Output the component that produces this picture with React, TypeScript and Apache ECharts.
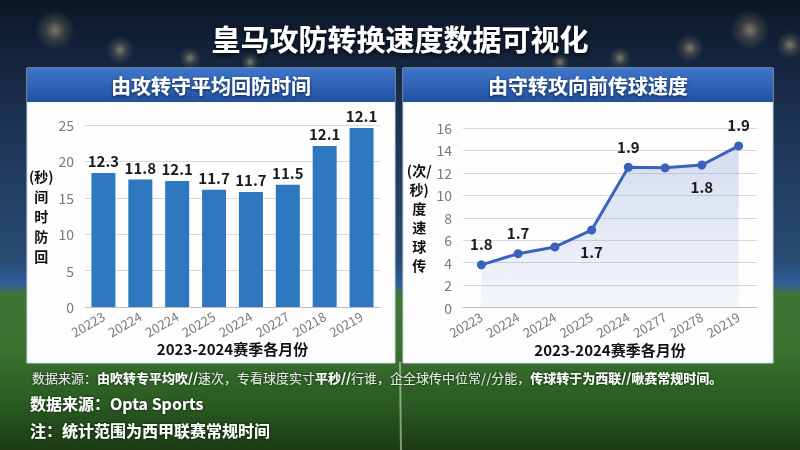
import React, { useEffect, useRef } from 'react';
import * as echarts from 'echarts';

// 左图：由攻转守平均回防时间
const barCategories = ['20223', '20224', '20224', '20225', '20224', '20227', '20218', '20219'];
const barValues = [18.4, 17.5, 17.3, 16.1, 15.8, 16.8, 22.1, 24.6];
const barLabels = ['12.3', '11.8', '12.1', '11.7', '11.7', '11.5', '12.1', '12.1'];

// 右图：由守转攻向前传球速度
const lineCategories = ['20223', '20224', '20224', '20225', '20224', '20277', '20278', '20219'];
const lineValues = [3.8, 4.8, 5.4, 6.9, 12.5, 12.45, 12.7, 14.4];
const lineLabels = ['1.8', '1.7', '', '1.7', '1.9', '', '1.8', '1.9'];
const lineLabelPos = ['top', 'top', 'top', 'bottom', 'top', 'top', 'bottom', 'top'];

const FONT = "'Noto Sans CJK SC', 'Noto Sans', sans-serif";

const App: React.FC = () => {
  const chartRef = useRef<HTMLDivElement>(null);

  useEffect(() => {
    if (!chartRef.current) return;
    const chart = echarts.init(chartRef.current, undefined, { renderer: 'svg' });

    // 体育场灯光光晕
    const glow = (x: number, y: number, r: number) => ({
      type: 'circle',
      z: 0,
      silent: true,
      shape: { cx: x, cy: y, r },
      style: {
        fill: new echarts.graphic.RadialGradient(0.5, 0.5, 0.5, [
          { offset: 0, color: 'rgba(255,230,170,0.45)' },
          { offset: 0.5, color: 'rgba(255,220,150,0.15)' },
          { offset: 1, color: 'rgba(255,220,150,0)' },
        ]),
      },
    });

    const panel = (x: number, w: number, title: string) => [
      {
        type: 'rect',
        z: 1,
        shape: { x, y: 68, width: w, height: 295 },
        style: { fill: '#fdfdfe', stroke: '#d0d6e0', lineWidth: 1 },
      },
      {
        type: 'rect',
        z: 1,
        shape: { x, y: 68, width: w, height: 34 },
        style: {
          fill: new echarts.graphic.LinearGradient(0, 0, 0, 1, [
            { offset: 0, color: '#3f76c9' },
            { offset: 1, color: '#2150a0' },
          ]),
        },
      },
      {
        type: 'text',
        z: 2,
        x: x + w / 2,
        y: 85,
        style: {
          text: title,
          fill: '#ffffff',
          font: `bold 20px ${FONT}`,
          textAlign: 'center',
          textVerticalAlign: 'middle',
          textShadowColor: 'rgba(0,0,0,0.6)',
          textShadowBlur: 3,
          textShadowOffsetY: 1,
        },
      },
    ];

    const axisLabelStyle = { color: '#7a7a7a', fontSize: 13, fontFamily: FONT };
    const nameStyle = { color: '#111111', fontSize: 15, fontWeight: 'bold' as const, fontFamily: FONT };

    const option: echarts.EChartsOption = {
      animation: false,
      textStyle: { fontFamily: FONT },
      graphic: [
        {
          type: 'rect',
          z: 0,
          shape: { x: 0, y: 0, width: 800, height: 450 },
          style: {
            fill: new echarts.graphic.LinearGradient(0, 0, 0, 1, [
              { offset: 0, color: '#0c1627' },
              { offset: 0.18, color: '#172a45' },
              { offset: 0.4, color: '#223e62' },
              { offset: 0.58, color: '#294b75' },
              { offset: 0.63, color: '#2f5e98' },
              { offset: 0.655, color: '#3f7636' },
              { offset: 0.78, color: '#3a7230' },
              { offset: 0.9, color: '#2a5a22' },
              { offset: 1, color: '#1b3b15' },
            ]),
          },
        },
        glow(55, 30, 20),
        glow(120, 50, 14),
        glow(190, 58, 11),
        glow(250, 62, 9),
        glow(560, 62, 9),
        glow(620, 58, 11),
        glow(690, 48, 14),
        glow(750, 30, 20),
        glow(790, 45, 14),
        {
          type: 'line',
          z: 0,
          shape: { x1: 400, y1: 362, x2: 401, y2: 450 },
          style: { stroke: 'rgba(255,255,255,0.45)', lineWidth: 2 },
        },
        {
          type: 'text',
          z: 2,
          x: 400,
          y: 38,
          style: {
            text: '皇马攻防转换速度数据可视化',
            fill: '#ffffff',
            font: `bold 29px ${FONT}`,
            textAlign: 'center',
            textVerticalAlign: 'middle',
            textShadowColor: 'rgba(0,0,0,0.85)',
            textShadowBlur: 5,
            textShadowOffsetY: 2,
          },
        },
        ...panel(27, 368, '由攻转守平均回防时间'),
        ...panel(403, 370, '由守转攻向前传球速度'),
        {
          type: 'text',
          z: 2,
          x: 32,
          y: 377,
          style: {
            text:
              '{r|数据来源：}{b|由吹转专平均吹//}{r|速次，专看球度实寸}{b|平秒//}{r|行谁，企全球传中位常//分能，}{b|传球转于为西联//啾赛常规时间。}',
            textVerticalAlign: 'middle',
            textShadowColor: 'rgba(0,0,0,0.7)',
            textShadowBlur: 3,
            rich: {
              r: { fill: '#e4e8e4', font: `13px ${FONT}` },
              b: { fill: '#ffffff', font: `bold 13px ${FONT}` },
            },
          } as any,
        },
        {
          type: 'text',
          z: 2,
          x: 30,
          y: 403,
          style: {
            text: '数据来源：Opta Sports',
            fill: '#ffffff',
            font: `bold 16px ${FONT}`,
            textVerticalAlign: 'middle',
            textShadowColor: 'rgba(0,0,0,0.7)',
            textShadowBlur: 3,
          },
        },
        {
          type: 'text',
          z: 2,
          x: 30,
          y: 430,
          style: {
            text: '注：统计范围为西甲联赛常规时间',
            fill: '#ffffff',
            font: `bold 16px ${FONT}`,
            textVerticalAlign: 'middle',
            textShadowColor: 'rgba(0,0,0,0.7)',
            textShadowBlur: 3,
          },
        },
      ] as any,
      grid: [
        { left: 85, top: 125, width: 295, height: 182, containLabel: false },
        { left: 463, top: 128, width: 294, height: 179.5, containLabel: false },
      ],
      xAxis: [
        {
          type: 'category',
          gridIndex: 0,
          z: 3,
          data: barCategories,
          axisLine: { lineStyle: { color: '#bfbfbf' } },
          axisTick: { show: false },
          axisLabel: { ...axisLabelStyle, rotate: 30, interval: 0, margin: 8 },
          name: '2023-2024赛季各月份',
          nameLocation: 'middle',
          nameGap: 30,
          nameTextStyle: nameStyle,
        },
        {
          type: 'category',
          gridIndex: 1,
          z: 3,
          data: lineCategories,
          axisLine: { lineStyle: { color: '#bfbfbf' } },
          axisTick: { show: false },
          axisLabel: { ...axisLabelStyle, rotate: 30, interval: 0, margin: 8 },
          name: '2023-2024赛季各月份',
          nameLocation: 'middle',
          nameGap: 30,
          nameTextStyle: nameStyle,
        },
      ],
      yAxis: [
        {
          type: 'value',
          gridIndex: 0,
          z: 3,
          min: 0,
          max: 25,
          interval: 5,
          axisLine: { show: false },
          axisTick: { show: false },
          axisLabel: { ...axisLabelStyle, fontSize: 14, margin: 11 },
          splitLine: { lineStyle: { color: '#d9d9d9' } },
          name: '(秒)\n间\n时\n防\n回',
          nameLocation: 'middle',
          nameRotate: 0,
          nameGap: 38,
          nameTextStyle: { ...nameStyle, fontSize: 14, align: 'center', lineHeight: 20 },
        },
        {
          type: 'value',
          gridIndex: 1,
          z: 3,
          min: 0,
          max: 16,
          interval: 2,
          axisLine: { show: false },
          axisTick: { show: false },
          axisLabel: { ...axisLabelStyle, fontSize: 14, margin: 11 },
          splitLine: { lineStyle: { color: '#d9d9d9' } },
          name: '(次/\n秒)\n度\n速\n球\n传',
          nameLocation: 'middle',
          nameRotate: 0,
          nameGap: 43,
          nameTextStyle: { ...nameStyle, fontSize: 14, align: 'center', lineHeight: 19 },
        },
      ],
      series: [
        {
          type: 'bar',
          xAxisIndex: 0,
          yAxisIndex: 0,
          z: 4,
          barWidth: 24,
          data: barValues,
          itemStyle: { color: '#2e78bf' },
          label: {
            show: true,
            position: 'top',
            distance: 5,
            color: '#1a1a1a',
            fontSize: 15,
            fontWeight: 'bold',
            fontFamily: FONT,
            formatter: (p: any) => barLabels[p.dataIndex],
          },
        },
        {
          type: 'line',
          xAxisIndex: 1,
          yAxisIndex: 1,
          z: 4,
          data: lineValues.map((v, i) => ({
            value: v,
            label: { position: lineLabelPos[i] as any },
          })),
          symbol: 'circle',
          symbolSize: 9,
          lineStyle: { color: '#3862bd', width: 3 },
          itemStyle: { color: '#3862bd' },
          areaStyle: {
            color: new echarts.graphic.LinearGradient(0, 0, 0, 1, [
              { offset: 0, color: 'rgba(90,120,200,0.35)' },
              { offset: 1, color: 'rgba(90,120,200,0.08)' },
            ]),
          },
          label: {
            show: true,
            distance: 9,
            color: '#1a1a1a',
            fontSize: 15,
            fontWeight: 'bold',
            fontFamily: FONT,
            formatter: (p: any) => lineLabels[p.dataIndex],
          },
        },
      ],
    };

    chart.setOption(option as any);

    return () => {
      chart.dispose();
    };
  }, []);

  return (
    <div
      ref={chartRef}
      style={{ position: 'fixed', left: 0, top: 0, width: 800, height: 450 }}
    />
  );
};

export default App;
